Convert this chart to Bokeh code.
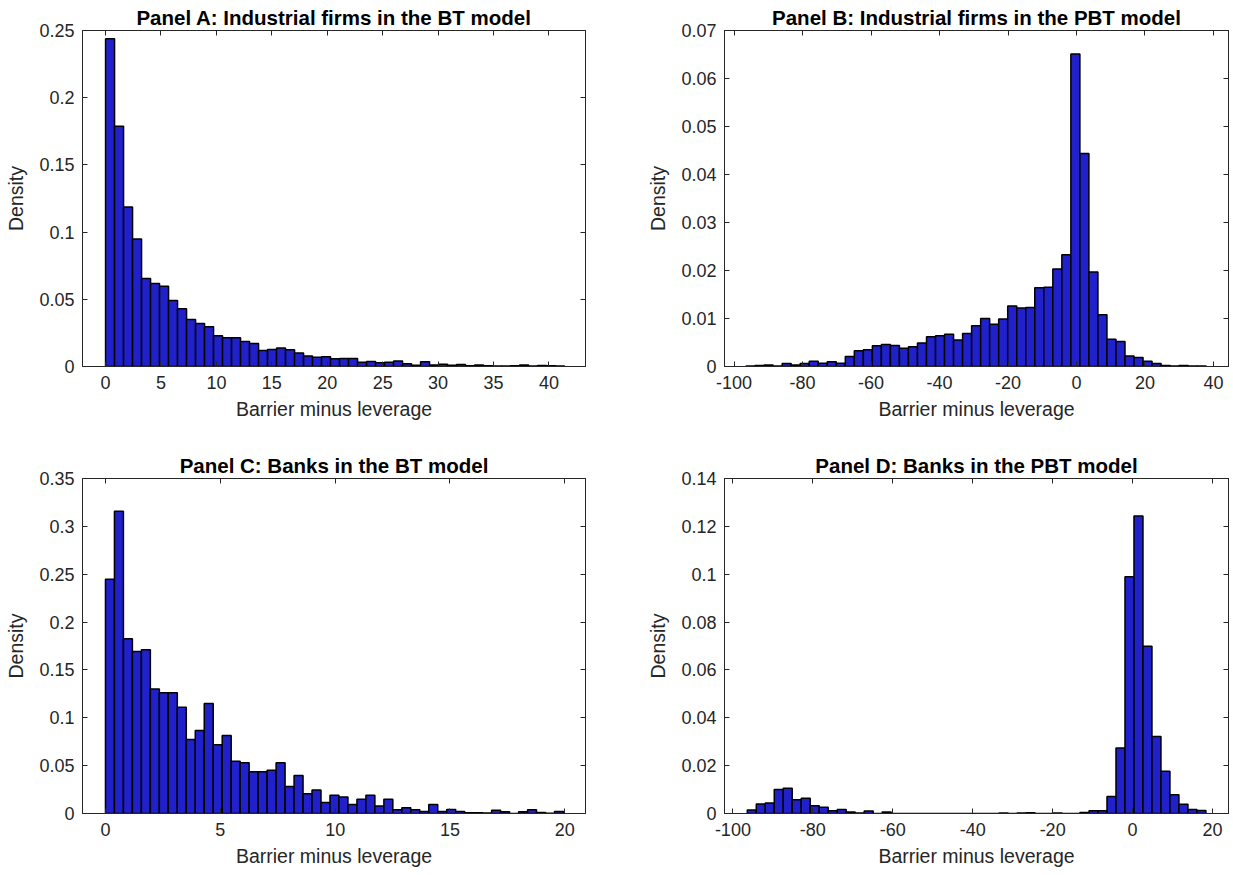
from bokeh.plotting import figure
from bokeh.models import Range1d, FixedTicker, LinearAxis, CustomJSTickFormatter
from bokeh.layouts import gridplot
from bokeh.embed import file_html
from bokeh.resources import INLINE

# ---------------- data ----------------
titles = [
    "Panel A: Industrial firms in the BT model",
    "Panel B: Industrial firms in the PBT model",
    "Panel C: Banks in the BT model",
    "Panel D: Banks in the PBT model",
]
x_label = "Barrier minus leverage"
y_label = "Density"

# Panel A: density per bin, bins start at a_lo with width a_width
a_lo, a_width = 0.0, 0.812
a_density = [0.2438, 0.1788, 0.1187, 0.0948, 0.0655, 0.0618, 0.0598, 0.0492, 0.0430, 0.0350,
             0.0320, 0.0295, 0.0228, 0.0214, 0.0214, 0.0186, 0.0171, 0.0119, 0.0127, 0.0137,
             0.0124, 0.0100, 0.0079, 0.0069, 0.0073, 0.0057, 0.0060, 0.0060, 0.0032, 0.0037,
             0.0027, 0.0032, 0.0040, 0.0020, 0.0010, 0.0035, 0.0012, 0.0017, 0.0010, 0.0015,
             0.0005, 0.0012, 0.0005, 0.0003, 0.0003, 0.0005, 0.0012, 0.0003, 0.0007, 0.0006,
             0.0003]

# Panel B
b_lo, b_width = -96.5, 2.635
b_density = [0.0001, 0.0002, 0.0003, 0.0001, 0.0006, 0.0003, 0.0006, 0.0011, 0.0007, 0.0010,
             0.0007, 0.0021, 0.0033, 0.0035, 0.0043, 0.0046, 0.0044, 0.0038, 0.0041, 0.0049,
             0.0062, 0.0064, 0.0067, 0.0055, 0.0069, 0.0085, 0.0100, 0.0088, 0.0099, 0.0126,
             0.0122, 0.0123, 0.0164, 0.0165, 0.0203, 0.0233, 0.0651, 0.0444, 0.0197, 0.0108,
             0.0057, 0.0052, 0.0022, 0.0019, 0.0011, 0.0006, 0.0002, 0.0001, 0.0002, 0.0001,
             0.0001]

# Panel C
c_lo, c_width = 0.0, 0.391
c_density = [0.2448, 0.3159, 0.1825, 0.1693, 0.1710, 0.1302, 0.1261, 0.1261, 0.1111, 0.0773,
             0.0867, 0.1149, 0.0717, 0.0815, 0.0547, 0.0529, 0.0435, 0.0435, 0.0453, 0.0529,
             0.0282, 0.0397, 0.0207, 0.0245, 0.0114, 0.0190, 0.0172, 0.0093, 0.0148, 0.0190,
             0.0079, 0.0148, 0.0038, 0.0059, 0.0038, 0.0020, 0.0093, 0.0020, 0.0041, 0.0020,
             0.0007, 0.0007, 0.0005, 0.0034, 0.0017, 0.0000, 0.0017, 0.0038, 0.0010, 0.0003,
             0.0020]

# Panel D
d_lo, d_width = -96.4, 2.25
d_density = [0.0015, 0.0040, 0.0044, 0.0100, 0.0106, 0.0057, 0.0064, 0.0032, 0.0026, 0.0012,
             0.0017, 0.0006, 0.0002, 0.0010, 0.0000, 0.0006, 0.0000, 0.0000, 0.0000, 0.0000,
             0.0000, 0.0000, 0.0000, 0.0000, 0.0000, 0.0000, 0.0000, 0.0000, 0.0002, 0.0000,
             0.0002, 0.0003, 0.0000, 0.0000, 0.0002, 0.0000, 0.0000, 0.0004, 0.0011, 0.0011,
             0.0071, 0.0274, 0.0989, 0.1243, 0.0699, 0.0322, 0.0177, 0.0078, 0.0039, 0.0017,
             0.0013]

a_xticks = [0, 5, 10, 15, 20, 25, 30, 35, 40]
b_xticks = [-100, -80, -60, -40, -20, 0, 20, 40]
c_xticks = [0, 5, 10, 15, 20]
d_xticks = [-100, -80, -60, -40, -20, 0, 20]
a_yticks = [0, 0.05, 0.1, 0.15, 0.2, 0.25]
b_yticks = [0, 0.01, 0.02, 0.03, 0.04, 0.05, 0.06, 0.07]
c_yticks = [0, 0.05, 0.1, 0.15, 0.2, 0.25, 0.3, 0.35]
d_yticks = [0, 0.02, 0.04, 0.06, 0.08, 0.1, 0.12, 0.14]

# ---------------- styling ----------------
FONT = "Liberation Sans"
TXT = "#262626"
BAR = "#2121CC"
TICK_FS = "18px"
LABEL_FS = "19.5px"
TITLE_FS = "20.5px"

fmt_code = "return String(Number(tick.toFixed(6)));"


def style_axis(ax, ticks, with_labels=True):
    ax.ticker = FixedTicker(ticks=ticks)
    ax.major_tick_in = 5
    ax.major_tick_out = 0
    ax.minor_tick_line_color = None
    ax.axis_line_color = TXT
    ax.major_tick_line_color = TXT
    ax.axis_line_width = 1
    if with_labels:
        ax.formatter = CustomJSTickFormatter(code=fmt_code)
        ax.major_label_text_font = FONT
        ax.major_label_text_font_size = TICK_FS
        ax.major_label_text_color = TXT
        ax.axis_label_text_font = FONT
        ax.axis_label_text_font_size = LABEL_FS
        ax.axis_label_text_font_style = "normal"
        ax.axis_label_text_color = TXT
    else:
        ax.formatter = CustomJSTickFormatter(code="return '';")
        ax.major_label_text_font_size = "0px"
        ax.major_label_standoff = 0


def panel(title, dens, lo, width, xr, yr, xticks, yticks, w, h, bl, br, bt, bb):
    n = len(dens)
    left = [lo + width * i for i in range(n)]
    right = [lo + width * (i + 1) for i in range(n)]
    p = figure(width=w, height=h, x_range=Range1d(*xr), y_range=Range1d(*yr),
               output_backend="svg", toolbar_location=None,
               min_border_left=bl, min_border_right=br, min_border_top=bt, min_border_bottom=bb)
    p.quad(left=left, right=right, bottom=0, top=dens,
           fill_color=BAR, line_color="black", line_width=1.5)
    p.xgrid.visible = False
    p.ygrid.visible = False
    p.outline_line_color = TXT
    p.outline_line_width = 1
    p.background_fill_color = "white"
    p.border_fill_color = "white"

    p.title.text = title
    p.title.align = "center"
    p.title.text_font = FONT
    p.title.text_font_size = TITLE_FS
    p.title.text_font_style = "bold"
    p.title.text_color = "black"
    p.title.standoff = 4

    style_axis(p.xaxis[0], xticks)
    style_axis(p.yaxis[0], yticks)
    p.xaxis[0].axis_label = x_label
    p.yaxis[0].axis_label = y_label
    p.xaxis[0].major_label_standoff = 9
    p.xaxis[0].axis_label_standoff = 6
    p.yaxis[0].major_label_standoff = 8
    p.yaxis[0].axis_label_standoff = 9

    top = LinearAxis()
    style_axis(top, xticks, with_labels=False)
    p.add_layout(top, "above")
    rgt = LinearAxis()
    style_axis(rgt, yticks, with_labels=False)
    p.add_layout(rgt, "right")
    return p


pA = panel(titles[0], a_density, a_lo, a_width, (-2.08, 43.3), (0, 0.25), a_xticks, a_yticks,
           616, 437, 82, 31, 30, 71)
pB = panel(titles[1], b_density, b_lo, b_width, (-102.8, 44.4), (0, 0.07), b_xticks, b_yticks,
           617, 437, 108, 5, 30, 71)
pC = panel(titles[2], c_density, c_lo, c_width, (-1.0, 20.9), (0, 0.35), c_xticks, c_yticks,
           616, 438, 82, 30, 41, 62)
pD = panel(titles[3], d_density, d_lo, d_width, (-102.1, 24.0), (0, 0.14), d_xticks, d_yticks,
           617, 438, 108, 4, 41, 62)

grid = gridplot([[pA, pB], [pC, pD]], toolbar_location=None)

open("out.html", "w").write(file_html(grid, INLINE))
